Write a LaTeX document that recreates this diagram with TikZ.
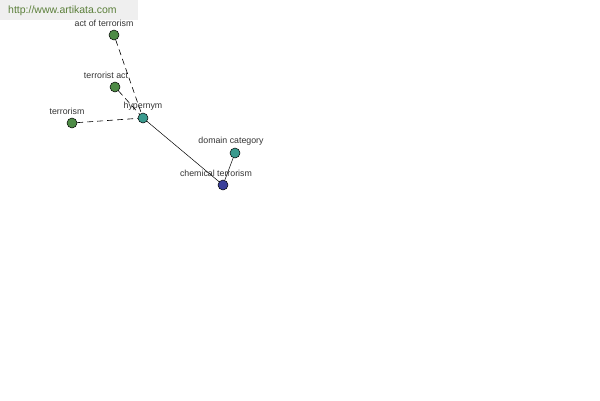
\documentclass[tikz,border=0pt]{standalone}
\usepackage{fontspec}
\setmainfont{Liberation Sans}
\usetikzlibrary{positioning}

\definecolor{leafgreen}{HTML}{4E8B46}
\definecolor{relteal}{HTML}{3A9A8E}
\definecolor{rootblue}{HTML}{3A3F9A}
\definecolor{bannergray}{HTML}{EFEFEF}
\definecolor{urlgreen}{HTML}{5B7F3A}

\begin{document}
\begin{tikzpicture}[
    x=1pt, y=-1pt,
    node_dot/.style={circle, draw=black, line width=0.5pt, minimum size=10pt, inner sep=0pt},
    node_txt/.style={font=\fontsize{8.8}{10}\selectfont, text=black!80, inner sep=0pt},
    edge_dash/.style={dashed, dash pattern=on 6pt off 4pt, line width=0.6pt},
    edge_line/.style={line width=0.5pt}
  ]
    \useasboundingbox (0,0) rectangle (600,400);
    \fill[bannergray] (0,0) rectangle (138,20);
    \node[font=\fontsize{10.5}{12}\selectfont, text=urlgreen, anchor=west, inner sep=0pt] (url) at (8,11) {http://www.artikata.com};

    % nodes
    \node[node_dot, fill=leafgreen] (act) at (114,35) {};
    \node[node_dot, fill=leafgreen] (tact) at (115,87) {};
    \node[node_dot, fill=leafgreen] (terr) at (72,123) {};
    \node[node_dot, fill=relteal] (hyp) at (143,118) {};
    \node[node_dot, fill=relteal] (dom) at (235,153) {};
    \node[node_dot, fill=rootblue] (chem) at (223,185) {};

    % labels
    \node[node_txt] (act_l) at (104,23) {act of terrorism};
    \node[node_txt] (tact_l) at (106,75) {terrorist act};
    \node[node_txt] (terr_l) at (67,111) {terrorism};
    \node[node_txt] (hyp_l) at (143,106) {hypernym};
    \node[node_txt] (dom_l) at (231,141) {domain category};
    \node[node_txt] (chem_l) at (216,173) {chemical terrorism};

    % edges
    \draw[edge_dash] (act) -- (hyp);
    \draw[edge_dash] (tact) -- (hyp);
    \draw[edge_dash] (terr) -- (hyp);
    \draw[edge_line] (hyp) -- (chem);
    \draw[edge_line] (dom) -- (chem);
  \end{tikzpicture}
\end{document}
